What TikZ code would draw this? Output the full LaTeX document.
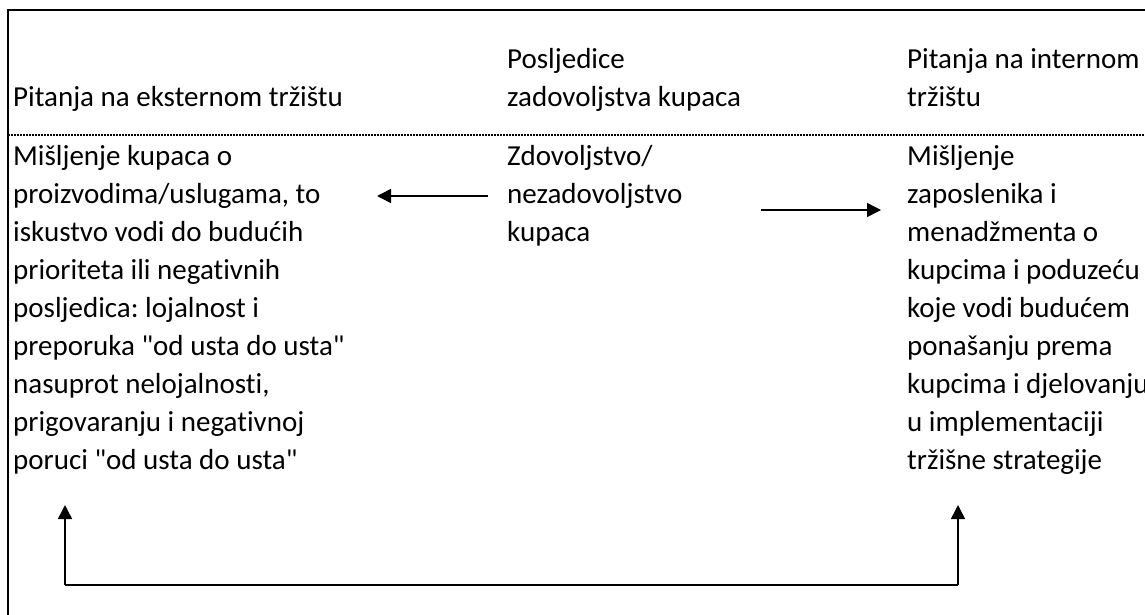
\documentclass[tikz,border=0pt]{standalone}
\usepackage{fontspec}
\setmainfont{Carlito}[Ligatures={TeXOff,NoCommon}]
\usetikzlibrary{arrows.meta}
\frenchspacing

\begin{document}
\begin{tikzpicture}[x=1pt,y=-1pt,
  txt/.style={inner sep=0pt,anchor=base west,align=left,font=\fontsize{29}{38}\selectfont},
  arr/.style={line width=1.5pt,-{Triangle[length=14pt,width=14pt]}}]
  \def\xa{13}
  \def\xb{507}
  \def\xc{907}
  \def\hy{106}
  \def\by{165}
  \def\ls{38}
  \useasboundingbox (0,0) rectangle (1145,614);
  \clip (0,0) rectangle (1145,614);
  % frame and separator
  \draw[line width=2pt] (8,630)--(8,10)--(1160,10);
  \draw[line width=1.4pt,dash pattern=on 2pt off 1pt] (8,135)--(1160,135);
  % headers (base = last line)
  \node[txt] (extHead) at (\xa,\hy) {Pitanja na eksternom tržištu};
  \node[txt] (midHead) at (\xb,\hy) {Posljedice\\zadovoljstva kupaca};
  \node[txt] (intHead) at (\xc,\hy) {Pitanja na internom\\tržištu};
  % columns
  \node[txt] (extBody) at (\xa,\by+8*\ls) {Mišljenje kupaca o\\proizvodima/uslugama, to\\iskustvo vodi do budućih\\prioriteta ili negativnih\\posljedica: lojalnost i\\preporuka "od usta do usta"\\nasuprot nelojalnosti,\\prigovaranju i negativnoj\\poruci "od usta do usta"};
  \node[txt] (midBody) at (\xb,\by+2*\ls) {Zdovoljstvo/\\nezadovoljstvo\\kupaca};
  \node[txt] (intBody) at (\xc,\by+8*\ls) {Mišljenje\\zaposlenika i\\menadžmenta o\\kupcima i poduzeću\\koje vodi budućem\\ponašanju prema\\kupcima i djelovanju\\u implementaciji\\tržišne strategije};
  % arrows
  \coordinate (lTail) at (488,196);
  \coordinate (lTip) at (377,196);
  \coordinate (rTail) at (761,210);
  \coordinate (rTip) at (881,210);
  \draw[arr] (lTail)--(lTip);
  \draw[arr] (rTail)--(rTip);
  \coordinate (loopL) at (65,585);
  \coordinate (loopR) at (958,585);
  \coordinate (extUp) at (65,505);
  \coordinate (intUp) at (958,505);
  \draw[arr] (loopL)--(extUp);
  \draw[arr] (loopR)--(intUp);
  \draw[line width=2pt] (loopL)--(loopR);
\end{tikzpicture}
\end{document}
